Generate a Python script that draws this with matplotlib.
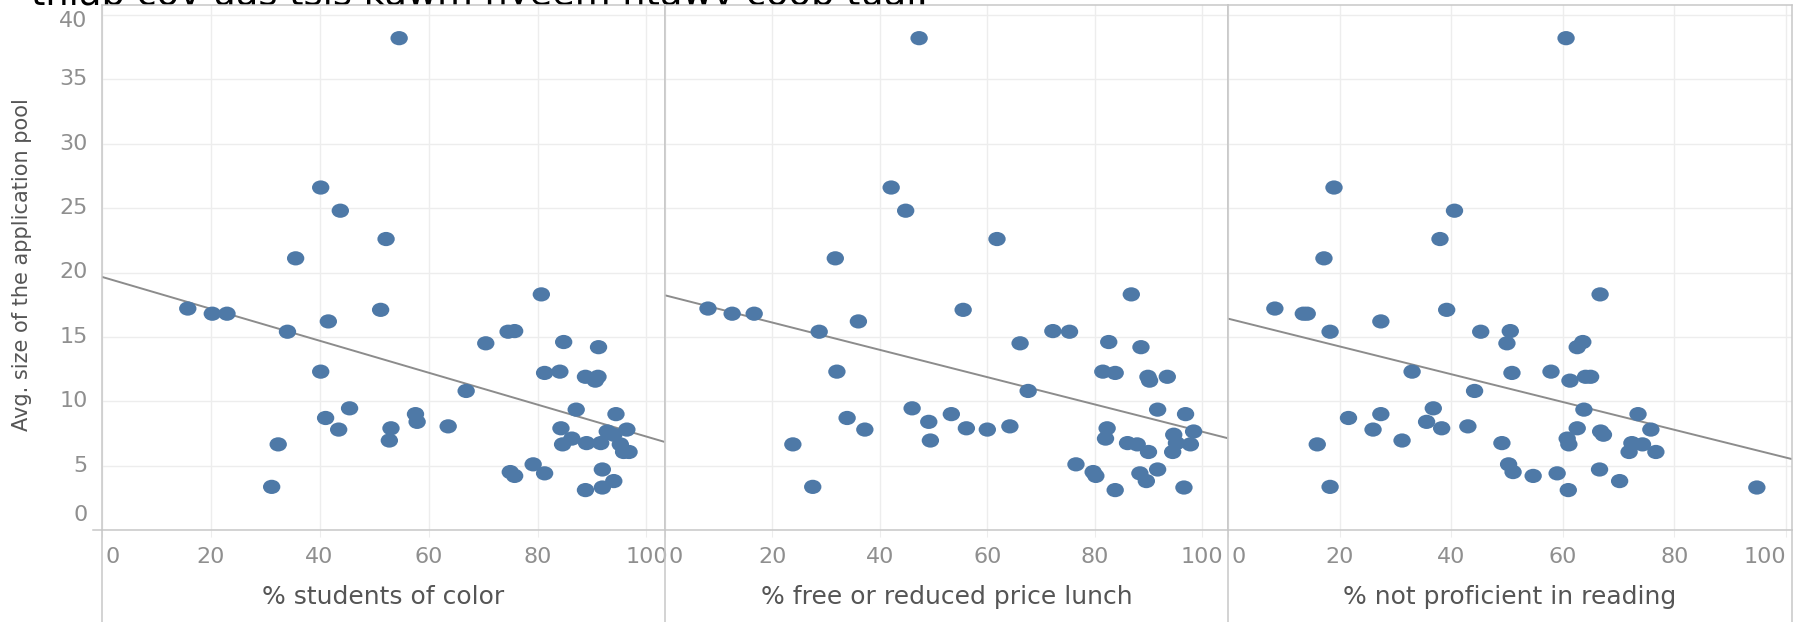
import matplotlib
matplotlib.use("Agg")
import matplotlib.pyplot as plt
from matplotlib.lines import Line2D
from matplotlib.markers import MarkerStyle
from matplotlib.transforms import Affine2D, offset_copy
import numpy as np

# one value per school, same order in every list
pool_size = [38.2, 26.6, 24.8, 22.6, 21.1, 18.3, 17.2, 17.1, 16.8, 16.8,
             16.2, 15.4, 15.45, 15.4, 14.5, 14.6, 14.2, 12.3, 12.2, 12.3,
             11.9, 11.9, 11.6, 10.8, 9.45, 9.35, 9.0, 9.0, 8.7, 8.4,
             8.05, 7.9, 7.8, 7.9, 7.8, 7.65, 7.4, 6.95, 7.1, 6.65,
             6.75, 6.65, 6.75, 6.65, 6.06, 6.06, 5.1, 4.5, 4.2, 4.4,
             4.7, 3.8, 3.35, 3.1, 3.3]

pct_color = [54.6, 40.2, 43.8, 52.2, 35.6, 80.7, 15.8, 51.2, 20.3, 23.0,
             41.6, 34.1, 75.8, 74.6, 70.5, 84.8, 91.2, 40.2, 81.3, 84.1,
             88.8, 91.1, 90.6, 66.9, 45.5, 87.1, 57.6, 94.4, 41.1, 57.9,
             63.6, 53.1, 43.5, 84.3, 96.4, 92.8, 94.0, 52.8, 86.3, 32.4,
             89.0, 84.6, 91.6, 95.2, 96.8, 95.8, 79.2, 75.0, 75.8, 81.3,
             91.9, 94.0, 31.2, 88.8, 91.9]

pct_lunch = [47.3, 42.1, 44.8, 61.8, 31.7, 86.8, 8.0, 55.5, 12.5, 16.6,
             36.0, 28.7, 72.2, 75.3, 66.1, 82.6, 88.6, 32.0, 83.8, 81.5,
             89.9, 93.5, 90.2, 67.6, 46.0, 91.7, 53.3, 96.9, 33.9, 49.1,
             64.2, 56.1, 37.2, 82.3, 60.0, 98.4, 94.7, 49.4, 82.0, 23.8,
             86.1, 87.9, 95.2, 97.8, 90.0, 94.5, 76.5, 79.7, 80.2, 88.4,
             91.7, 89.6, 27.5, 83.8, 96.6]

pct_not_reading = [60.6, 19.0, 40.6, 38.0, 17.2, 66.7, 8.4, 39.2, 13.5, 14.2,
                   27.4, 18.3, 50.6, 45.3, 50.0, 63.6, 62.6, 33.0, 50.9, 57.9,
                   64.1, 65.0, 61.3, 44.2, 36.8, 63.8, 27.4, 73.5, 21.6, 35.6,
                   43.0, 38.3, 26.0, 62.6, 75.8, 66.8, 67.3, 31.2, 60.8, 16.0,
                   49.1, 61.1, 72.4, 74.3, 71.9, 76.7, 50.3, 51.1, 54.7, 59.0,
                   66.6, 70.2, 18.3, 61.0, 94.8]

panel_titles = ["% students of color", "% free or reduced price lunch",
                "% not proficient in reading"]
x_max = [103.4, 104.8, 101.1]
y_max = 40.8
x_ticks = [0, 20, 40, 60, 80, 100]
y_ticks = [0, 5, 10, 15, 20, 25, 30, 35, 40]
y_title = "Avg. size of the application pool"
top_text = "thiab cov uas tsis kawm nyeem ntawv coob tuaj."

W, H = 1802, 622
edges = [101.7, 665, 1228, 1792]   # pane borders in pixels
top_px, axis_px = 4.7, 530

dot_color = "#4e79a7"
grid_color = "#ededed"
border_color = "#c8c8c8"
tick_color = "#8f8f8f"
label_color = "#555555"
ui_font = "DejaVu Sans"

fig = plt.figure(figsize=(W / 100, H / 100), dpi=100)
ellipse = MarkerStyle("o", transform=Affine2D().scale(1.22, 1.0))

for i, xs in enumerate([pct_color, pct_lunch, pct_not_reading]):
    ax = fig.add_axes([edges[i] / W, (H - axis_px) / H,
                       (edges[i + 1] - edges[i]) / W, (axis_px - top_px) / H])
    ax.set_xlim(0, x_max[i])
    ax.set_ylim(0, y_max)
    ax.set_xticks(x_ticks)
    ax.set_yticks(y_ticks)
    ax.grid(color=grid_color, lw=1.0)
    ax.set_axisbelow(True)
    ax.tick_params(left=False, labelleft=False, labelbottom=False,
                   bottom=True, length=5, color=grid_color)
    for s in ax.spines.values():
        s.set_color(border_color)
        s.set_linewidth(1.1)

    ax.scatter(xs, pool_size, s=105, marker=ellipse, color=dot_color,
               edgecolors="none", zorder=3)

    # linear trend line
    k, b = np.polyfit(xs, pool_size, 1)
    tx = np.array([0, x_max[i]])
    ax.plot(tx, k * tx + b, color="#8c8c8c", lw=1.4, zorder=2)

    # x tick labels
    xt = offset_copy(ax.get_xaxis_transform(), fig=fig, y=-19.5, units="points")
    for v in x_ticks:
        ha = "center"
        tr = xt
        if v == 0:
            ha = "left"
            tr = offset_copy(xt, fig=fig, x=2.5, units="points")
        elif v == 100 and i == 2:
            ha = "right"
        ax.text(v, 0, str(v), transform=tr, ha=ha, va="center",
                fontsize=16, color=tick_color, family=ui_font)

    ax.text(0.5, 0, panel_titles[i],
            transform=offset_copy(ax.transAxes, fig=fig, y=-48.5, units="points"),
            ha="center", va="center", fontsize=18, color=label_color,
            family=ui_font)

    if i == 0:
        for v in y_ticks:
            dy = 0
            if v == 40:
                dy = -4.5
            elif v == 0:
                dy = 11
            tr = offset_copy(ax.get_yaxis_transform(), fig=fig, x=-10, y=dy,
                             units="points")
            ax.text(0, v, str(v), transform=tr, ha="right", va="center",
                    fontsize=16, color=tick_color, family=ui_font)

# pane dividers run down through the axis title area
for x in edges:
    fig.add_artist(Line2D([x / W, x / W], [0, (H - axis_px) / H],
                          color=border_color, lw=1.1))
fig.add_artist(Line2D([93 / W, edges[0] / W], [(H - axis_px) / H] * 2,
                      color=border_color, lw=1.1))

fig.text(21.7 / W, 1 - 265 / H, y_title, rotation=90, ha="center", va="center",
         fontsize=15, color=label_color, family=ui_font)

# heading cut off by the top of the image, panes drawn over it
fig.text(31 / W, 1 - 5 / H, top_text, ha="left", va="baseline", fontsize=26.5,
         color="black", family="DejaVu Sans", zorder=-1)

fig.savefig("out.png", dpi=100)
